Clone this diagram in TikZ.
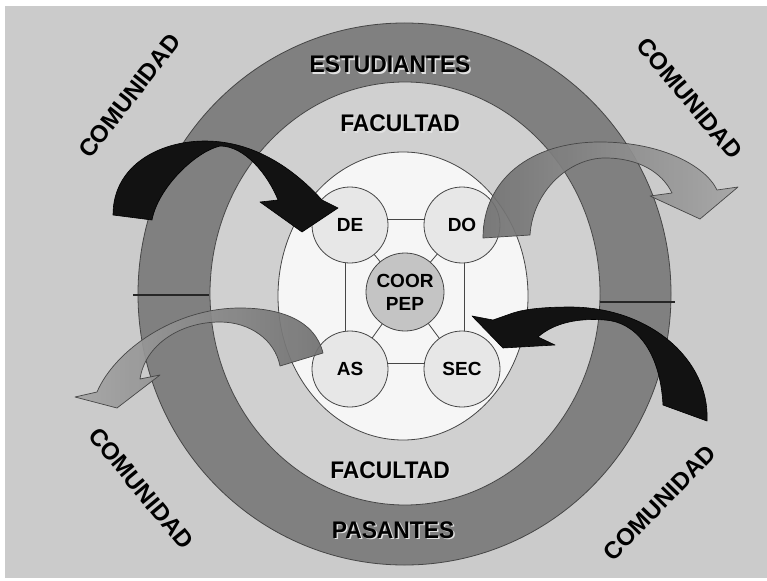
\documentclass[tikz,border=0pt]{standalone}
\usepackage{fontspec}
\setmainfont{Liberation Sans}
\newfontfamily\ringfont[FakeStretch=0.95]{Liberation Sans}
\definecolor{bggray}{RGB}{203,203,203}
\definecolor{ringdark}{RGB}{128,128,128}
\definecolor{ringlight}{RGB}{208,208,208}
\definecolor{core}{RGB}{246,246,246}
\definecolor{cornerfill}{RGB}{231,231,231}
\definecolor{coorfill}{RGB}{196,196,196}
\definecolor{edgegray}{RGB}{70,70,70}
\definecolor{arrowblack}{RGB}{18,18,18}
\definecolor{arrowdark}{RGB}{112,112,112}
\definecolor{arrowlight}{RGB}{165,165,165}
\definecolor{shadowgray}{RGB}{225,225,225}
\begin{document}
\begin{tikzpicture}[x=1pt,y=-1pt,
  ringedge/.style={draw=edgegray,line width=0.8pt},
  unit/.style={circle,draw=edgegray,line width=0.8pt,fill=cornerfill,minimum size=76pt,inner sep=0pt,font=\fontsize{19}{23}\selectfont\bfseries,align=center},
  link/.style={draw=edgegray,line width=0.8pt},
  ringlabel/.style={font=\ringfont\fontsize{24}{28}\selectfont\bfseries,anchor=base,inner sep=0pt},
  comlabel/.style={font=\fontsize{24}{28}\selectfont\bfseries,inner sep=0pt},
  blackarrow/.style={fill=arrowblack,draw=black,line width=0.6pt,line join=round},
  grayarrow/.style={draw=edgegray,line width=0.7pt,line join=round,fill opacity=0.92},
  divider/.style={draw=black!85,line width=1.2pt}
]
\useasboundingbox (0,0) rectangle (767,580);
\fill[white] (0,0) rectangle (767,580);
\fill[bggray] (5,6) rectangle (767,578);
% rings
\path[ringedge,fill=ringdark] (404.5,294) ellipse [x radius=266.5pt, y radius=271pt];
\path[ringedge,fill=ringlight] (405,293.5) ellipse [x radius=195pt, y radius=211.5pt];
\path[ringedge,fill=core] (403,296) ellipse [x radius=125pt, y radius=144pt];
% units
\coordinate (pDE) at (350,225);
\coordinate (pDO) at (462,225);
\coordinate (pAS) at (350,369);
\coordinate (pSEC) at (462,369);
\coordinate (pCO) at (405,292);
\draw[link] ([yshift=6pt]pDE) -- ([yshift=6pt]pDO);
\draw[link] ([yshift=6pt]pAS) -- ([yshift=6pt]pSEC);
\draw[link] ([xshift=-5pt]pDE) -- ([xshift=-5pt]pAS);
\draw[link] ([xshift=2pt]pDO) -- ([xshift=2pt]pSEC);
\draw[link] (pCO) -- (pDE);
\draw[link] (pCO) -- (pDO);
\draw[link] (pCO) -- (pAS);
\draw[link] (pCO) -- (pSEC);
\node[unit] (DE) at (pDE) {DE};
\node[unit] (DO) at (pDO) {DO};
\node[unit] (AS) at (pAS) {AS};
\node[unit] (SEC) at (pSEC) {SEC};
\node[unit,fill=coorfill,minimum size=78pt] (COOR) at (pCO) {COOR\\PEP};
% ring labels
\node[ringlabel,text=shadowgray] at (391.5,74.5) {ESTUDIANTES};
\node[ringlabel] (estud) at (390,73) {ESTUDIANTES};
\node[ringlabel,text=shadowgray] at (401.5,133.5) {FACULTAD};
\node[ringlabel] (facT) at (400,132) {FACULTAD};
\node[ringlabel,text=shadowgray] at (391.5,479.5) {FACULTAD};
\node[ringlabel] (facB) at (390,478) {FACULTAD};
\node[ringlabel,text=shadowgray] at (394.5,539.5) {PASANTES};
\node[ringlabel] (pas) at (393,538) {PASANTES};
% community labels
\node[comlabel,rotate=52] (com1) at (129.5,96) {COMUNIDAD};
\node[comlabel,rotate=-50] (com2) at (689.5,98.5) {COMUNIDAD};
\node[comlabel,rotate=-50.5] (com3) at (141,488.5) {COMUNIDAD};
\node[comlabel,rotate=46] (com4) at (659.5,503) {COMUNIDAD};
% arrows
\path[blackarrow] (113,215) .. controls (113,165) and (160,141) .. (205,141) .. controls (255,141) and (295,170) .. (322,200) -- (338,208) -- (302,232) -- (260,202) -- (278,200) .. controls (268,175) and (245,146) .. (220,146) .. controls (195,152) and (158,188) .. (152,220) -- cycle;
\path[grayarrow,left color=arrowdark,right color=arrowlight] (483,238) .. controls (483,180) and (530,142) .. (600,142) .. controls (660,142) and (705,165) .. (717,190) -- (738,187) -- (700,219) -- (650,196) -- (672,193) .. controls (662,172) and (638,158) .. (605,158) .. controls (570,158) and (533,190) .. (530,235) -- cycle;
\path[grayarrow,left color=arrowlight,right color=arrowdark] (323,353) .. controls (315,320) and (280,308) .. (240,308) .. controls (175,308) and (115,350) .. (97,392) -- (75,397) -- (117,408) -- (160,375) -- (140,379) .. controls (145,345) and (180,322) .. (220,322) .. controls (250,322) and (275,340) .. (280,366) -- cycle;
\path[blackarrow] (707,421) .. controls (710,360) and (650,307) .. (570,307) .. controls (545,307) and (525,309) .. (513,313) -- (493,320) -- (472,316) -- (503,348) -- (555,345) -- (538,337) .. controls (555,322) and (580,318) .. (605,320) .. controls (635,322) and (660,350) .. (663,405) -- cycle;
% dividers
\coordinate (dL1) at (133,295);
\coordinate (dL2) at (209,295);
\coordinate (dR1) at (600,302);
\coordinate (dR2) at (675,302);
\draw[divider] (dL1) -- (dL2);
\draw[divider] (dR1) -- (dR2);
\end{tikzpicture}
\end{document}
